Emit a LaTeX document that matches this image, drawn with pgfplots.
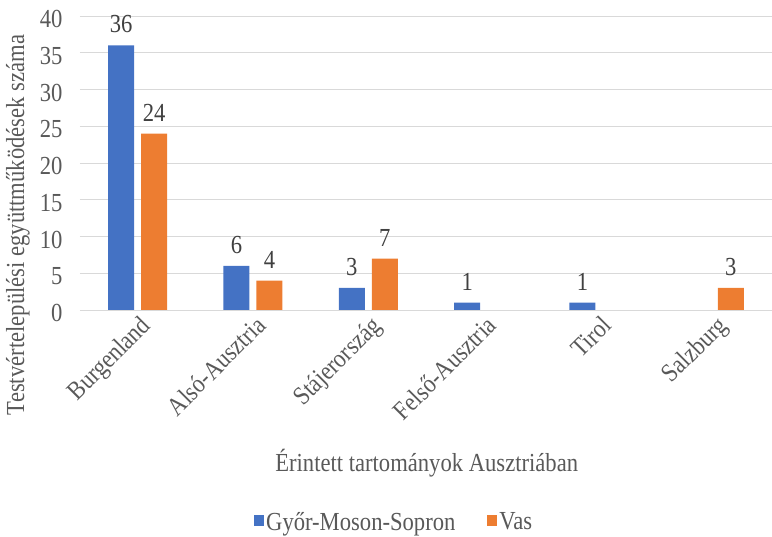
\documentclass[border=0pt]{standalone}
\usepackage{fontspec}
\setmainfont{Liberation Serif}[FakeStretch=0.87]
\usepackage{pgfplots}
\pgfplotsset{compat=1.18}
\definecolor{cblue}{HTML}{4472C4}
\definecolor{corange}{HTML}{ED7D31}
\definecolor{tgray}{HTML}{595959}
\definecolor{lgray}{HTML}{404040}
\definecolor{ggray}{HTML}{D9D9D9}
\begin{document}
\begin{tikzpicture}
\useasboundingbox (-80pt,-227pt) rectangle (692pt,310pt);
\begin{axis}[
  at={(0,0)}, anchor=south west,
  scale only axis, width=692pt, height=294pt,
  xmin=-0.5, xmax=5.5, ymin=0, ymax=40,
  ytick={0,5,...,40},
  xtick={0,1,2,3,4,5},
  xticklabels={Burgenland,Alsó-Ausztria,Stájerország,Felső-Ausztria,Tirol,Salzburg},
  /pgf/number format/assume math mode=true,
  axis line style={draw=none},
  ymajorgrids, major grid style={draw=ggray, line width=0.8pt},
  major tick length=0pt,
  tick label style={font=\fontsize{26}{29}\selectfont, text=tgray},
  yticklabel style={xshift=-14pt, yshift=-3pt},
  xticklabel style={rotate=45, anchor=north east, inner sep=2pt, yshift=-2pt},
  ybar, bar width=26pt,
  nodes near coords,
  every node near coord/.append style={font=\fontsize{26}{29}\selectfont, text=lgray, yshift=9pt},
  ylabel={Testvértelepülési együttműködések száma},
  ylabel style={at={(axis description cs:-0.0896,0.289)}, anchor=center, font=\fontsize{26}{29}\selectfont, text=tgray},
  xlabel={Érintett tartományok Ausztriában},
  xlabel style={at={(axis description cs:0.501,0)}, yshift=-153pt, anchor=center, font=\fontsize{26}{29}\selectfont, text=tgray},
  legend style={at={(axis description cs:0.454,-0.721)}, anchor=center, draw=none, font=\fontsize{26}{29}\selectfont, text=tgray, legend columns=2, /tikz/every even column/.append style={column sep=30pt}},
  legend image code/.code={\fill[#1,draw=none] (2pt,-4pt) rectangle (12pt,7pt);},
]
\addplot[fill=cblue, draw=none, bar shift=-16.5pt] coordinates {(0,36) (1,6) (2,3) (3,1) (4,1)};
\addplot[fill=corange, draw=none, bar shift=16.5pt] coordinates {(0,24) (1,4) (2,7) (5,3)};
\legend{Győr-Moson-Sopron,Vas}
\end{axis}
\end{tikzpicture}
\end{document}
